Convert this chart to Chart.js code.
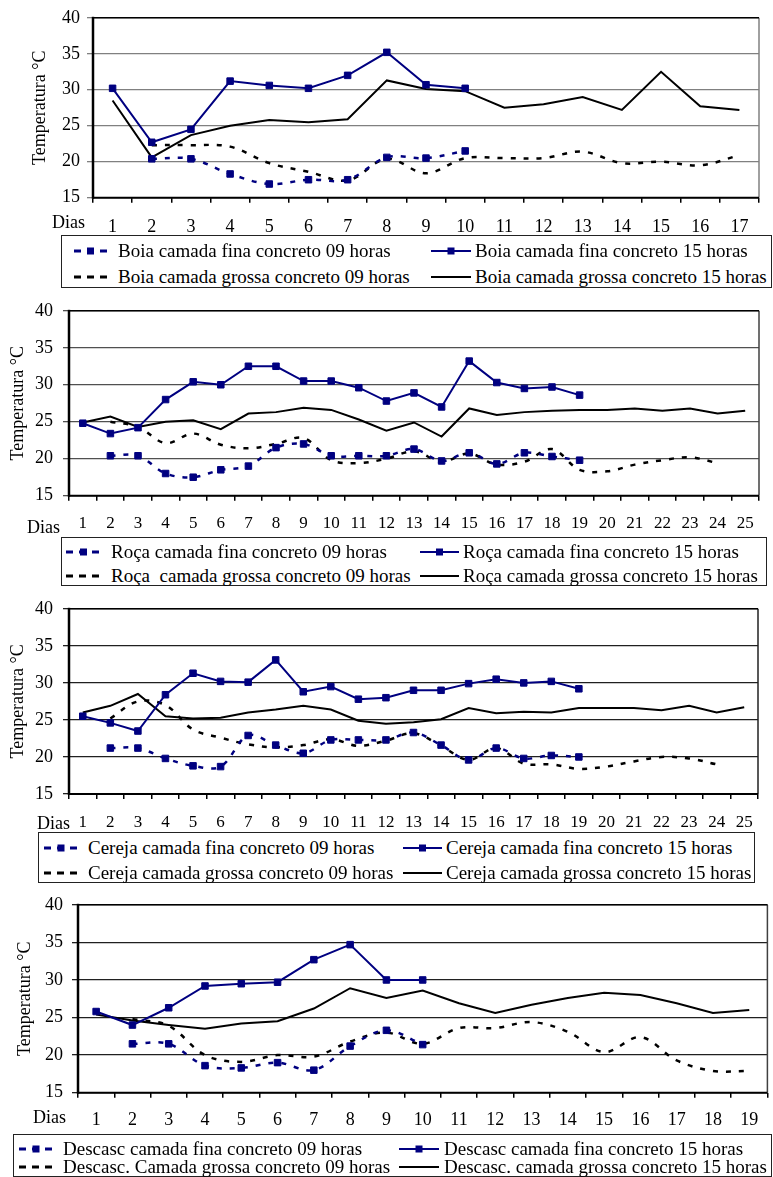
<!DOCTYPE html>
<html>
<head>
<meta charset="utf-8">
<script src="https://cdn.jsdelivr.net/npm/chart.js@4.4.1/dist/chart.umd.min.js"></script>
<style>
  body { margin: 0; background: #fff; width: 773px; height: 1177px; position: relative; overflow: hidden;
         font-family: "Liberation Serif", "Times New Roman", serif; color: #000; }
  canvas { position: absolute; left: 0; }
  .dias { position: absolute; font-size: 18px; line-height: 20px; }
  .legend { position: absolute; border: 1px solid #222; box-sizing: border-box; background: #fff; }
  .item { position: absolute; font-size: 19px; line-height: 22px; white-space: pre; }
  .sym { position: absolute; }
</style>
</head>
<body>
<script>
// --- Data ---
const days17 = ["1","2","3","4","5","6","7","8","9","10","11","12","13","14","15","16","17"];
const days25 = ["1","2","3","4","5","6","7","8","9","10","11","12","13","14","15","16","17","18","19","20","21","22","23","24","25"];
const days19 = ["1","2","3","4","5","6","7","8","9","10","11","12","13","14","15","16","17","18","19"];
const yTicks = [15, 20, 25, 30, 35, 40];

// Boia
const boiaLabels = ["Boia camada fina concreto 09 horas", "Boia camada fina concreto 15 horas",
                    "Boia camada grossa concreto 09 horas", "Boia camada grossa concreto 15 horas"];
const boiaFina09   = [null, 20.4, 20.4, 18.3, 16.9, 17.5, 17.5, 20.6, 20.5, 21.5];
const boiaFina15   = [30.2, 22.7, 24.5, 31.2, 30.6, 30.2, 32.0, 35.2, 30.7, 30.2];
const boiaGrossa09 = [null, 22.3, 22.3, 22.1, 19.8, 18.6, 17.4, 20.4, 18.4, 20.5, 20.5, 20.5, 21.4, 19.8, 20.0, 19.5, 20.9];
const boiaGrossa15 = [28.5, 20.6, 23.7, 25.0, 25.8, 25.5, 25.9, 31.3, 30.1, 29.8, 27.5, 28.0, 29.0, 27.2, 32.5, 27.7, 27.2];

// Roça
const rocaLabels = ["Roça camada fina concreto 09 horas", "Roça camada fina concreto 15 horas",
                    "Roça  camada grossa concreto 09 horas", "Roça camada grossa concreto 15 horas"];
const rocaFina09   = [null, 20.4, 20.4, 18.0, 17.5, 18.5, 19.0, 21.5, 22.0, 20.4, 20.4, 20.4, 21.3, 19.7, 20.8, 19.3, 20.8, 20.3, 19.8];
const rocaFina15   = [24.8, 23.4, 24.2, 28.0, 30.4, 30.0, 32.5, 32.5, 30.5, 30.5, 29.6, 27.8, 28.9, 27.0, 33.2, 30.3, 29.5, 29.7, 28.6];
const rocaGrossa09 = [null, 25.0, 24.3, 22.1, 23.4, 21.9, 21.4, 22.0, 22.8, 19.8, 19.4, 20.0, 21.0, 19.6, 20.7, 19.2, 19.6, 21.3, 18.5, 18.3, 19.2, 19.8, 20.2, 19.4];
const rocaGrossa15 = [24.9, 25.7, 24.3, 25.0, 25.2, 24.0, 26.1, 26.3, 26.9, 26.6, 25.3, 23.8, 24.9, 23.0, 26.8, 25.9, 26.3, 26.5, 26.6, 26.6, 26.8, 26.5, 26.8, 26.1, 26.5];

// Cereja
const cerejaLabels = ["Cereja camada fina concreto 09 horas", "Cereja camada fina concreto 15 horas",
                      "Cereja camada grossa concreto 09 horas", "Cereja camada grossa concreto 15 horas"];
const cerejaFina09   = [null, 21.2, 21.2, 19.8, 18.8, 18.7, 22.9, 21.6, 20.5, 22.3, 22.3, 22.3, 23.3, 21.6, 19.6, 21.2, 19.8, 20.2, 20.0];
const cerejaFina15   = [25.5, 24.6, 23.5, 28.4, 31.3, 30.2, 30.1, 33.1, 28.8, 29.5, 27.8, 28.0, 29.0, 29.0, 29.9, 30.5, 30.0, 30.2, 29.2];
const cerejaGrossa09 = [null, 25.2, 27.5, 27.0, 23.7, 22.6, 21.7, 21.3, 21.6, 22.4, 21.5, 22.2, 23.2, 21.5, 19.6, 21.2, 19.1, 19.0, 18.4, 18.7, 19.4, 20.0, 19.8, 19.0];
const cerejaGrossa15 = [26.0, 26.9, 28.5, 25.5, 25.2, 25.3, 26.0, 26.4, 26.9, 26.4, 24.9, 24.5, 24.7, 25.1, 26.6, 25.9, 26.1, 26.0, 26.6, 26.6, 26.6, 26.3, 26.9, 26.0, 26.7];

// Descascado
const descLabels = ["Descasc camada fina concreto 09 horas", "Descasc camada fina concreto 15 horas",
                    "Descasc. Camada grossa concreto 09 horas", "Descasc. camada grossa concreto 15 horas"];
const descFina09   = [null, 21.5, 21.5, 18.6, 18.3, 19.0, 18.0, 21.2, 23.3, 21.4];
const descFina15   = [25.8, 24.0, 26.3, 29.2, 29.5, 29.7, 32.7, 34.7, 30.0, 30.0];
const descGrossa09 = [null, 24.8, 23.9, 20.0, 19.1, 20.0, 19.8, 21.8, 23.0, 21.5, 23.6, 23.6, 24.4, 23.1, 20.4, 22.4, 19.3, 17.9, 17.9];
const descGrossa15 = [25.4, 24.6, 24.0, 23.5, 24.2, 24.5, 26.2, 28.9, 27.6, 28.6, 26.9, 25.6, 26.7, 27.6, 28.3, 28.0, 26.9, 25.6, 26.0];

const NAVY = "#000080";

// --- Layout of the four panels ---
const panels = [
  { labels: days17, names: boiaLabels, series: [boiaFina09, boiaFina15, boiaGrossa09, boiaGrossa15],
    top: 0, height: 235, plot: { left: 93, right: 759, top: 13.3, bottom: 197.7 },
    tickSize: 18, yPad: 7, xPad: 13.5, titlePad: 29.2, grid: "#808080", frame: "#808080",
    dias: { x: 52, y: 222 },
    legend: { left: 61, top: 235, right: 772, bottom: 288, rows: [15, 41], sym: [[12, 45], [369, 409]], text: [56, 413] } },
  { labels: days25, names: rocaLabels, series: [rocaFina09, rocaFina15, rocaGrossa09, rocaGrossa15],
    top: 290, height: 247, plot: { left: 69, right: 759, top: 306.7, bottom: 495.7 },
    tickSize: 17, yPad: 10, xPad: 12.4, titlePad: 7.2, grid: "#505050", frame: "#404040",
    dias: { x: 27, y: 527 },
    legend: { left: 61, top: 537, right: 767, bottom: 586, rows: [14, 38], sym: [[4, 39], [358, 397]], text: [49, 401] } },
  { labels: days25, names: cerejaLabels, series: [cerejaFina09, cerejaFina15, cerejaGrossa09, cerejaGrossa15],
    top: 588, height: 244, plot: { left: 69, right: 758, top: 604.3, bottom: 794 },
    tickSize: 17, yPad: 10, xPad: 13.1, titlePad: 7.2, grid: "#202020", frame: "#202020",
    dias: { x: 37, y: 823 },
    legend: { left: 38, top: 832, right: 755, bottom: 883, rows: [15, 40], sym: [[5, 39], [364, 403]], text: [49, 407] } },
  { labels: days19, names: descLabels, series: [descFina09, descFina15, descGrossa09, descGrossa15],
    top: 885, height: 249, plot: { left: 78, right: 768, top: 903.3, bottom: 1092.7 },
    tickSize: 18, yPad: 9, xPad: 11.5, titlePad: 14.2, grid: "#202020", frame: "#404040",
    dias: { x: 33, y: 1117 },
    legend: { left: 13, top: 1134, right: 772, bottom: 1177, rows: [14, 32], sym: [[5, 39], [385, 425]], text: [49, 430] } }
];

// --- Series styles: fina 09h, fina 15h, grossa 09h, grossa 15h ---
const styles = [
  { color: NAVY,   width: 2.5, dash: [5, 8], marker: true,  tension: 0.35 },
  { color: NAVY,   width: 2,   dash: [],     marker: true,  tension: 0 },
  { color: "#000", width: 2.5, dash: [5, 8], marker: false, tension: 0.35 },
  { color: "#000", width: 2,   dash: [],     marker: false, tension: 0 }
];

// --- Plot frame (drawn under the lines) ---
const plotFrame = {
  id: "plotFrame",
  beforeDatasetsDraw(chart, args, opts) {
    const { ctx, chartArea: a } = chart;
    const seg = (x1, y1, x2, y2, color, w) => {
      ctx.beginPath(); ctx.strokeStyle = color; ctx.lineWidth = w;
      ctx.moveTo(x1, y1); ctx.lineTo(x2, y2); ctx.stroke();
    };
    ctx.save();
    seg(a.right, a.top, a.right, a.bottom, opts.color, 1.5);
    seg(a.left, a.top, a.right, a.top, "#000", 1.5);
    seg(a.left, a.bottom, a.right, a.bottom, "#000", 2);
    seg(a.left, a.top - 1, a.left, a.bottom + 1, "#000", 2.5);
    ctx.restore();
  }
};

// --- Legend symbol (svg) ---
function legendSymbol(st, x1, x2, cy) {
  const w = x2 - x1;
  const dash = st.dash.length ? 'stroke-dasharray="7 6"' : "";
  const rect = st.marker ? `<rect x="${w / 2 - 3.5}" y="2.5" width="7" height="7" fill="${st.color}"/>` : "";
  return `<svg class="sym" style="left:${x1}px;top:${cy - 6}px" width="${w}" height="12">` +
         `<line x1="0" y1="6" x2="${w}" y2="6" stroke="${st.color}" stroke-width="${st.dash.length ? 3 : 2}" ${dash}/>` +
         rect + `</svg>`;
}

// --- Build one panel ---
function makePanel(p) {
  const canvas = document.createElement("canvas");
  canvas.width = 773;
  canvas.height = p.height;
  canvas.style.top = p.top + "px";
  document.body.appendChild(canvas);

  const datasets = p.series.map((values, i) => {
    const st = styles[i];
    return {
      label: p.names[i],
      data: values,
      borderColor: st.color,
      backgroundColor: st.color,
      borderWidth: st.width,
      borderDash: st.dash,
      tension: st.tension,
      pointStyle: "rect",
      pointRadius: st.marker ? 4.6 : 0,
      pointBorderWidth: 1,
      pointBorderColor: st.color,
      pointBackgroundColor: st.color,
      spanGaps: false,
      fill: false
    };
  });

  const xHeight = p.height - (p.plot.bottom - p.top);

  new Chart(canvas, {
    type: "line",
    data: { labels: p.labels, datasets },
    plugins: [plotFrame],
    options: {
      responsive: false,
      animation: false,
      devicePixelRatio: 1,
      events: [],
      layout: { padding: { left: 0, right: 773 - p.plot.right, top: p.plot.top - p.top, bottom: 0 } },
      plugins: {
        legend: { display: false },
        tooltip: { enabled: false },
        plotFrame: { color: p.frame }
      },
      scales: {
        x: {
          type: "category",
          offset: true,
          grid: { offset: true, drawOnChartArea: false, drawTicks: true, tickLength: 5, color: "#000", lineWidth: 1.5 },
          border: { display: false },
          ticks: { color: "#000", padding: p.xPad, maxRotation: 0, autoSkip: false,
                   font: { family: "Liberation Serif", size: p.tickSize, lineHeight: 1.2 } },
          afterFit: s => { s.height = xHeight; }
        },
        y: {
          min: 15, max: 40,
          afterBuildTicks: s => { s.ticks = yTicks.map(v => ({ value: v })); },
          grid: { color: p.grid, lineWidth: 1.3, drawTicks: true, tickLength: 6 },
          border: { display: false },
          ticks: { color: "#000", padding: p.yPad,
                   font: { family: "Liberation Serif", size: 18, lineHeight: 1.2 } },
          title: { display: true, text: "Temperatura °C", color: "#000", padding: { top: p.titlePad, bottom: 0 },
                   font: { family: "Liberation Serif", size: 18, lineHeight: 1.2 } },
          afterFit: s => { s.width = p.plot.left; }
        }
      }
    }
  });

  // "Dias" label
  const d = document.createElement("div");
  d.className = "dias";
  d.textContent = "Dias";
  d.style.left = p.dias.x + "px";
  d.style.top = (p.dias.y - 10) + "px";
  document.body.appendChild(d);

  // legend box: row 1 = fina (09h, 15h), row 2 = grossa (09h, 15h)
  const L = p.legend;
  const box = document.createElement("div");
  box.className = "legend";
  box.style.left = L.left + "px";
  box.style.top = L.top + "px";
  box.style.width = (L.right - L.left) + "px";
  box.style.height = (L.bottom - L.top) + "px";
  let html = "";
  p.names.forEach((name, i) => {
    const row = Math.floor(i / 2), col = i % 2;
    const cy = L.rows[row];
    html += legendSymbol(styles[i], L.sym[col][0], L.sym[col][1], cy);
    html += `<div class="item" style="left:${L.text[col]}px;top:${cy - 11}px">${name}</div>`;
  });
  box.innerHTML = html;
  document.body.appendChild(box);
}

// --- Init ---
panels.forEach(makePanel);
</script>
</body>
</html>
